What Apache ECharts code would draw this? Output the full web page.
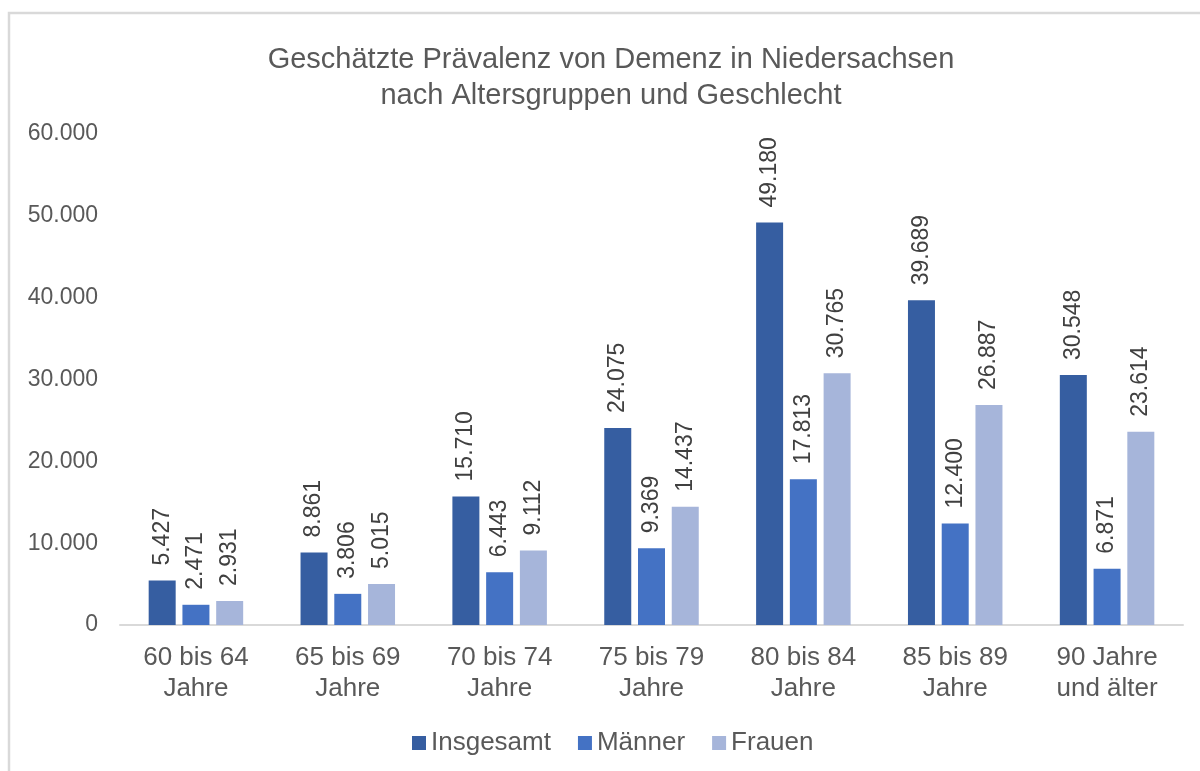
<!DOCTYPE html>
<html>
<head>
<meta charset="utf-8">
<script src="https://cdn.jsdelivr.net/npm/echarts@6/dist/echarts.min.js"></script>
<style>
  html, body { margin: 0; padding: 0; background: #fff; }
  #chart { width: 1200px; height: 771px; }
</style>
</head>
<body>
<div id="chart"></div>
<script>
const titleLines = ['Geschätzte Prävalenz von Demenz in Niedersachsen', 'nach Altersgruppen und Geschlecht'];
const categories = ['60 bis 64\nJahre', '65 bis 69\nJahre', '70 bis 74\nJahre', '75 bis 79\nJahre', '80 bis 84\nJahre', '85 bis 89\nJahre', '90 Jahre\nund älter'];
const seriesNames = ['Insgesamt', 'Männer', 'Frauen'];
const insgesamt = [5427, 8861, 15710, 24075, 49180, 39689, 30548];
const maenner = [2471, 3806, 6443, 9369, 17813, 12400, 6871];
const frauen = [2931, 5015, 9112, 14437, 30765, 26887, 23614];
const colors = ['#365ea1', '#4472c4', '#a6b5da'];

const FONT = '"Liberation Sans", Arial, sans-serif';
function fmt(v) {
  return String(Math.round(v)).replace(/\B(?=(\d{3})+(?!\d))/g, '.');
}

const chart = echarts.init(document.getElementById('chart'), null, { renderer: 'canvas' });

function makeSeries(name, data, color) {
  return {
    name: name,
    type: 'bar',
    data: data,
    barWidth: 27,
    barGap: '25%',
    itemStyle: { color: color },
    label: {
      show: true,
      position: 'top',
      rotate: 90,
      align: 'left',
      verticalAlign: 'middle',
      distance: 15,
      color: '#404040',
      fontSize: 23,
      fontFamily: FONT,
      formatter: p => fmt(p.value)
    }
  };
}

chart.setOption({
  animation: false,
  backgroundColor: '#ffffff',
  textStyle: { fontFamily: FONT },
  graphic: [{
    type: 'rect',
    z: -10,
    silent: true,
    shape: { x: 9, y: 13, width: 1400, height: 1000 },
    style: { fill: 'none', stroke: '#d9d9d9', lineWidth: 2.5 }
  }],
  title: {
    text: titleLines.join('\n'),
    left: 611,
    top: 42,
    textAlign: 'center',
    padding: 0,
    textStyle: {
      fontFamily: FONT,
      fontSize: 29,
      fontWeight: 'normal',
      color: '#595959',
      lineHeight: 36
    }
  },
  legend: {
    data: seriesNames,
    left: 412,
    top: 730,
    icon: 'rect',
    itemWidth: 14,
    itemHeight: 14,
    itemGap: 27,
    padding: 0,
    textStyle: { fontFamily: FONT, fontSize: 26, color: '#595959', lineHeight: 26 }
  },
  grid: { left: 120, right: 17, top: 134, bottom: 146, containLabel: false },
  xAxis: {
    type: 'category',
    data: categories,
    axisLine: { show: true, lineStyle: { color: '#d9d9d9', width: 2 } },
    axisTick: { show: false },
    axisLabel: {
      interval: 0,
      margin: 17,
      fontFamily: FONT,
      fontSize: 26,
      lineHeight: 31,
      color: '#595959'
    }
  },
  yAxis: {
    type: 'value',
    min: 0,
    max: 60000,
    interval: 10000,
    axisLine: { show: false },
    axisTick: { show: false },
    splitLine: { show: false },
    axisLabel: {
      margin: 22,
      fontFamily: FONT,
      fontSize: 23,
      color: '#595959',
      formatter: v => fmt(v)
    }
  },
  series: [
    makeSeries(seriesNames[0], insgesamt, colors[0]),
    makeSeries(seriesNames[1], maenner, colors[1]),
    makeSeries(seriesNames[2], frauen, colors[2])
  ]
});
</script>
</body>
</html>
